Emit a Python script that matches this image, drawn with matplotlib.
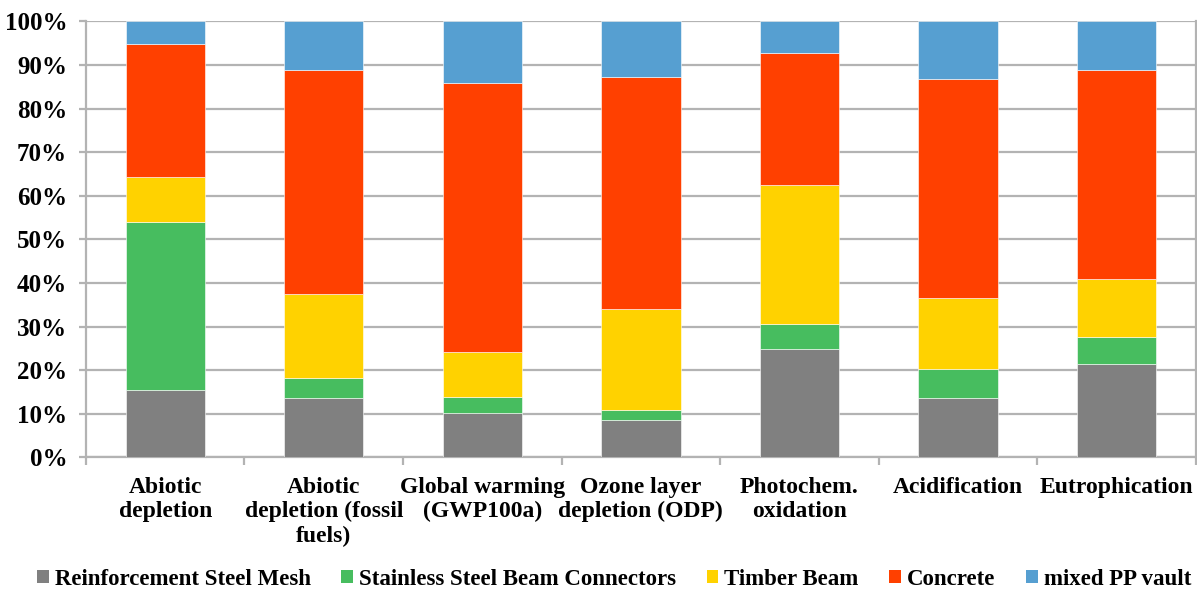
import numpy as np
import matplotlib.pyplot as plt
from matplotlib.patches import Patch

plt.rcParams['font.family'] = ['Liberation Serif', 'DejaVu Serif']
plt.rcParams['font.weight'] = 'bold'

categories = ["Abiotic\ndepletion", "Abiotic\ndepletion (fossil\nfuels)",
              "Global warming\n(GWP100a)", "Ozone layer\ndepletion (ODP)",
              "Photochem.\noxidation", "Acidification", "Eutrophication"]

# share of each component, in percent
steel_mesh = [15.4, 13.5, 10.1, 8.6, 24.8, 13.5, 21.3]
connectors = [38.6, 4.8, 3.8, 2.3, 5.8, 6.8, 6.4]
timber = [10.4, 19.2, 10.3, 23.1, 31.9, 16.2, 13.2]
concrete = [30.3, 51.3, 61.6, 53.3, 30.2, 50.3, 47.9]
pp_vault = [5.3, 11.2, 14.2, 12.7, 7.3, 13.2, 11.2]

series = [steel_mesh, connectors, timber, concrete, pp_vault]
names = ["Reinforcement Steel Mesh", "Stainless Steel Beam Connectors",
         "Timber Beam", "Concrete", "mixed PP vault"]
colors = ['#808080', '#47BD5F', '#FFD200', '#FF4000', '#569FD1']

fig = plt.figure(figsize=(11.97, 5.89), dpi=100)
ax = fig.add_axes([0.0718, 0.2236, 0.9272, 0.7402])

x = np.arange(len(categories))
bottom = np.zeros(len(categories))
for vals, c in zip(series, colors):
    vals = np.array(vals)
    ax.bar(x, vals, 0.5, bottom=bottom, color=c, edgecolor='white', linewidth=0.4, zorder=3)
    bottom += vals

grid_c = '#B3B3B3'
ax.set_xlim(-0.5, len(categories) - 0.5)
ax.set_ylim(0, 100)
ax.set_yticks(np.arange(0, 101, 10))
ax.set_yticklabels(['{}%'.format(v) for v in range(0, 101, 10)], fontsize=18)
ax.yaxis.grid(True, color=grid_c, lw=1.6, zorder=0)
ax.set_xticks(x)
ax.set_xticklabels(categories, fontsize=17, linespacing=1.2)
# category separators on the x axis
ax.set_xticks(np.arange(-0.5, len(categories)), minor=True)
ax.tick_params(axis='x', which='major', length=0, pad=14)
ax.tick_params(axis='x', which='minor', length=6, width=1.6, color=grid_c)
ax.tick_params(axis='y', length=5, width=1.6, color=grid_c, pad=8.5)
for s in ['left', 'bottom', 'right']:
    ax.spines[s].set_color(grid_c)
    ax.spines[s].set_linewidth(1.6)
ax.spines['top'].set_visible(False)

handles = [Patch(facecolor=c, edgecolor='none') for c in colors]
fig.legend(handles, names, loc='center', ncol=5, frameon=False,
           fontsize=16.5, handlelength=0.5, handleheight=0.5, handletextpad=0.26,
           columnspacing=1.35, borderpad=0, bbox_to_anchor=(0.513, 0.016))

fig.savefig('out.png', dpi=100)
